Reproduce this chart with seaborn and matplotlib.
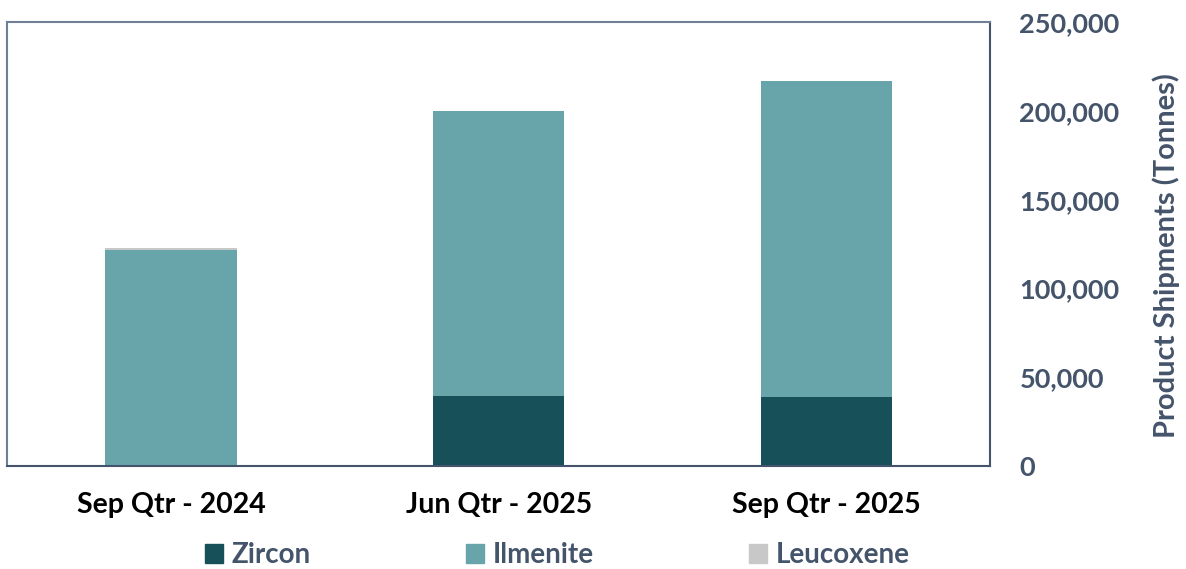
import pandas as pd
import seaborn as sns
import matplotlib.pyplot as plt
from matplotlib.patches import Patch
from matplotlib.ticker import FuncFormatter

# data (tonnes)
quarters = ["Sep Qtr - 2024", "Jun Qtr - 2025", "Sep Qtr - 2025"]
zircon = [0, 39400, 38900]
ilmenite = [121500, 160500, 177900]
leucoxene = [1400, 0, 0]

col_zircon = "#18505A"
col_ilmenite = "#67A5AA"
col_leucoxene = "#C8C8C8"
slate = "#44546A"

df = pd.DataFrame({"quarter": quarters, "Zircon": zircon,
                   "Ilmenite": ilmenite, "Leucoxene": leucoxene})
# cumulative heights so the layers can be overdrawn as a stack
df["top_leu"] = df.Zircon + df.Ilmenite + df.Leucoxene
df["top_ilm"] = df.Zircon + df.Ilmenite

sns.set_style("white")
plt.rcParams["font.family"] = ["Lato", "DejaVu Sans"]
plt.rcParams["font.weight"] = "bold"

fig, ax = plt.subplots(figsize=(11.86, 5.69), dpi=100)
fig.subplots_adjust(left=0.006, right=0.835, top=0.961, bottom=0.181)

sns.barplot(data=df, x="quarter", y="top_leu", color=col_leucoxene, width=0.4,
            saturation=1, linewidth=0, ax=ax)
sns.barplot(data=df, x="quarter", y="top_ilm", color=col_ilmenite, width=0.4,
            saturation=1, linewidth=0, ax=ax)
sns.barplot(data=df, x="quarter", y="Zircon", color=col_zircon, width=0.4,
            saturation=1, linewidth=0, ax=ax)

ax.set_xlim(-0.5, 2.5)
ax.set_ylim(0, 250000)
ax.set_yticks(range(0, 250001, 50000))
ax.yaxis.set_major_formatter(FuncFormatter(lambda v, p: f"{int(v):,}"))
ax.yaxis.tick_right()
ax.tick_params(axis="y", length=0, pad=21, labelsize=19.5, labelcolor=slate)
ax.tick_params(axis="x", length=0, pad=19, labelsize=20.5, labelcolor="black")
for lab in ax.get_xticklabels() + ax.get_yticklabels():
    lab.set_fontweight("bold")

ax.set_xlabel("")
ax.set_ylabel("Product Shipments (Tonnes)", fontsize=21, fontweight="bold",
              color=slate)
ax.yaxis.set_label_position("right")
ax.yaxis.set_label_coords(1.165, 0.475)

for side in ["left", "top", "right", "bottom"]:
    ax.spines[side].set_visible(True)
    ax.spines[side].set_color(slate)
    ax.spines[side].set_linewidth(1.5)
ax.spines["left"].set_color("#6F7F95")
ax.spines["top"].set_color("#6F7F95")

handles = [Patch(color=col_zircon, label="Zircon"),
           Patch(color=col_ilmenite, label="Ilmenite"),
           Patch(color=col_leucoxene, label="Leucoxene")]
leg = fig.legend(handles=handles, loc="center", bbox_to_anchor=(0.47, 0.024),
                 ncol=3, frameon=False, fontsize=20, handlelength=0.65,
                 handleheight=0.65, handletextpad=0.3, columnspacing=5.6)
for t in leg.get_texts():
    t.set_color(slate)
    t.set_fontweight("bold")

fig.savefig("out.png", dpi=100)
